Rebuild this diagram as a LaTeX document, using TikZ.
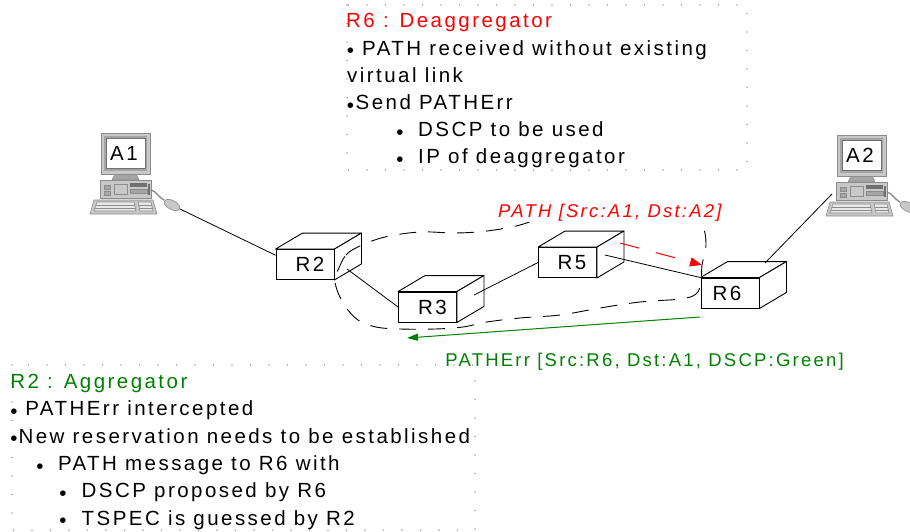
\documentclass[tikz,border=0pt]{standalone}
\usepackage{fontspec}
\setmainfont{Liberation Sans}[LetterSpace=12]
\usetikzlibrary{arrows.meta,calc}

\definecolor{rred}{RGB}{255,0,0}
\definecolor{ggreen}{RGB}{0,128,0}
\definecolor{cbody}{RGB}{200,200,200}
\definecolor{cedge}{RGB}{140,140,140}
\definecolor{cdark}{RGB}{112,112,112}
\definecolor{cmid}{RGB}{165,165,165}
\definecolor{ckey}{RGB}{232,232,232}

% small bullet glyph, lowered to sit like a list marker
\newcommand\bdot{\raisebox{-2.8pt}{•}}

\tikzset{
  body/.style={font=\fontsize{20.5}{20.5}\selectfont, inner sep=0pt, anchor=base west},
  bulletmark/.style={font=\fontsize{20.5}{20.5}\selectfont, inner sep=0pt, anchor=base},
  small/.style={font=\fontsize{18.5}{18.5}\selectfont, inner sep=0pt, anchor=base west},
  rbox/.style={draw, line width=0.9pt, fill=white, minimum width=58pt,
    minimum height=30pt, inner sep=0pt, font=\fontsize{20.5}{20.5}\selectfont},
  face/.style={draw, line width=0.9pt, fill=white, line join=round},
  link/.style={line width=0.8pt},
  tunnel/.style={line width=0.9pt, dash pattern=on 17pt off 12pt},
  notebox/.style={draw=gray!70, line width=1.6pt, dash pattern=on 0pt off 18.5pt,
    line cap=round},
  cframe/.style={draw=cedge, line width=0.6pt},
  pics/computer/.style={code={
    % keyboard
    \draw[cframe, fill=cbody] (-7,67) -- (52,67) -- (56,81) -- (-11,81) -- cycle;
    \draw[cframe, fill=ckey] (-4,69) -- (33,69) -- (35,78) -- (-7,78) -- cycle;
    \draw[cframe, fill=ckey] (37,69) -- (50,69) -- (52,78) -- (39,78) -- cycle;
    \draw[cedge, line width=0.4pt] (-5,72) -- (34,72) (-6,75) -- (34.5,75)
      (38,72) -- (51,72) (38.5,75) -- (51.5,75);
    % system unit
    \draw[cframe, fill=cbody] (-1,47) rectangle (50,65);
    \draw[cframe, fill=cmid] (3,52) rectangle (9,56);
    \draw[cframe, fill=cmid] (3,58) rectangle (9,62);
    \draw[cframe, fill=cbody] (13,51) rectangle (26,61);
    \fill[cdark] (29,50) rectangle (46,54);
    \draw[cframe, fill=cmid] (29,56) rectangle (46,60);
    \fill[cdark] (47,51) rectangle (48.5,62);
    % stand
    \draw[cframe, fill=cmid] (14,41) -- (35,41) -- (38,47) -- (11,47) -- cycle;
    % monitor and screen
    \draw[cframe, fill=cbody] (0,0) rectangle (49,41);
    \fill[cmid] (3,3) rectangle (46,38);
    \draw[draw=cdark, line width=0.6pt, fill=white] (5,5) rectangle (44,35);
    \node[font=\fontsize{20.5}{20.5}\selectfont, inner sep=0pt] (-scr) at (23,20) {#1};
    % mouse and cable
    \draw[cedge, line width=1.4pt] (50,57) .. controls (55,58) and (57,64) .. (63,67);
    \draw[cframe, fill=cbody, rotate around={-28:(71,72)}] (71,72) ellipse (8.5 and 4.5);
    \coordinate (-east) at (79,76);
    \coordinate (-west) at (-5,59);
  }}
}

% top and right faces of a router box
\newcommand\boxfaces[1]{%
  \draw[face] (#1.north west) -- ++(27,-16) -- ($(#1.north east)+(27,-16)$)
    -- (#1.north east) -- cycle;
  \draw[face] (#1.north east) -- ++(27,-16) -- ($(#1.south east)+(27,-16)$)
    -- (#1.south east) -- cycle;}

\begin{document}
\begin{tikzpicture}[x=1pt, y=-1pt]
\useasboundingbox (0,0) rectangle (910,532);

% note frames
\draw[notebox] (347,5) rectangle (747,170);
\draw[notebox] (12,365) rectangle (475,530);

% deaggregator note
\node[body, text=rred] (n6t) at (346,28) {R6 : Deaggregator};
\node[bulletmark] (n6b1) at (350.5,55.2) {\bdot};
\node[body] (n6l1) at (362,55.2) {PATH received without existing};
\node[body] (n6l2) at (347,82.4) {virtual link};
\node[bulletmark] (n6b2) at (350.5,109.6) {\bdot};
\node[body] (n6l3) at (355.5,109.6) {Send PATHErr};
\node[bulletmark] (n6b3) at (400,136.8) {\bdot};
\node[body] (n6l4) at (418,136.8) {DSCP to be used};
\node[bulletmark] (n6b4) at (400,164) {\bdot};
\node[body] (n6l5) at (418,164) {IP of deaggregator};

% aggregator note
\node[body, text=ggreen] (n2t) at (10.2,388.3) {R2 : Aggregator};
\node[bulletmark] (n2b1) at (14,415.6) {\bdot};
\node[body] (n2l1) at (25.2,415.6) {PATHErr intercepted};
\node[bulletmark] (n2b2) at (14,443) {\bdot};
\node[body] (n2l2) at (18.4,443) {New reservation needs to be established};
\node[bulletmark] (n2b3) at (40,470.3) {\bdot};
\node[body] (n2l3) at (57.8,470.3) {PATH message to R6 with};
\node[bulletmark] (n2b4) at (63,497.7) {\bdot};
\node[body] (n2l4) at (81.5,497.7) {DSCP proposed by R6};
\node[bulletmark] (n2b5) at (63,525) {\bdot};
\node[body] (n2l5) at (81.5,525) {TSPEC is guessed by R2};

% hosts
\pic (A1) at (101,133) {computer=A1};
\pic (A2) at (837,135) {computer=A2};

% routers in front of the tunnel
\node[rbox] (R2) at (305,264.5) {\hspace*{10pt}R2};
\boxfaces{R2}
\node[rbox] (R3) at (427.5,307) {\hspace*{10pt}R3};
\boxfaces{R3}
\node[rbox] (R5) at (567.5,262.5) {\hspace*{9pt}R5};
\boxfaces{R5}

% aggregate tunnel R2 -> R6
\draw[tunnel] plot[smooth cycle, tension=0.6] coordinates {
  (338,270) (346,255) (360,246) (385,237) (420,232) (455,233) (487,231)
  (520,225) (555,214) (620,208) (685,210) (702,225) (706,245) (702,265)
  (701,282) (696,294) (680,299) (640,302) (600,308) (560,315) (520,318)
  (487,322) (463,327) (435,329) (400,329) (376,327) (358,320) (345,306)
  (337,290) (335,278)};

\node[rbox] (R6) at (730,293) {R6\hspace*{6pt}};
\boxfaces{R6}

% physical links
\coordinate (R2in) at ($(R2.north west)!0.2!(R2.south west)$);
\coordinate (R2out) at (347,269);
\coordinate (R3out) at (474,295);
\coordinate (R5out) at (605,255);
\coordinate (R6top) at (765,263);
\draw[link] (A1-east) -- (R2in);
\draw[link] (R2out) -- (R3.west);
\draw[link] (R3out) -- (R5.west);
\draw[link] (R5out) -- (R6.north west);
\draw[link] (A2-west) -- (R6top);

% PATH message towards R6
\node[small, font=\fontsize{18.5}{18.5}\selectfont\itshape, text=rred, fill=white,
  inner sep=1pt] (pathlbl) at (497,217.5) {PATH [Src:A1, Dst:A2]};
\coordinate (pathS) at (620,243);
\coordinate (pathE) at (702,265);
\draw[rred, line width=1pt, dash pattern=on 20pt off 17pt,
  -{Triangle[length=12pt, width=9pt]}] (pathS) -- (pathE);

% PATHErr back towards R2
\coordinate (errS) at (700,317);
\coordinate (errE) at (407,338);
\draw[ggreen, line width=1pt, -{Triangle[length=11pt, width=7pt]}] (errS) -- (errE);
\node[small, text=ggreen] (errlbl) at (445.2,366.7) {PATHErr [Src:R6, Dst:A1, DSCP:Green]};
\end{tikzpicture}
\end{document}
